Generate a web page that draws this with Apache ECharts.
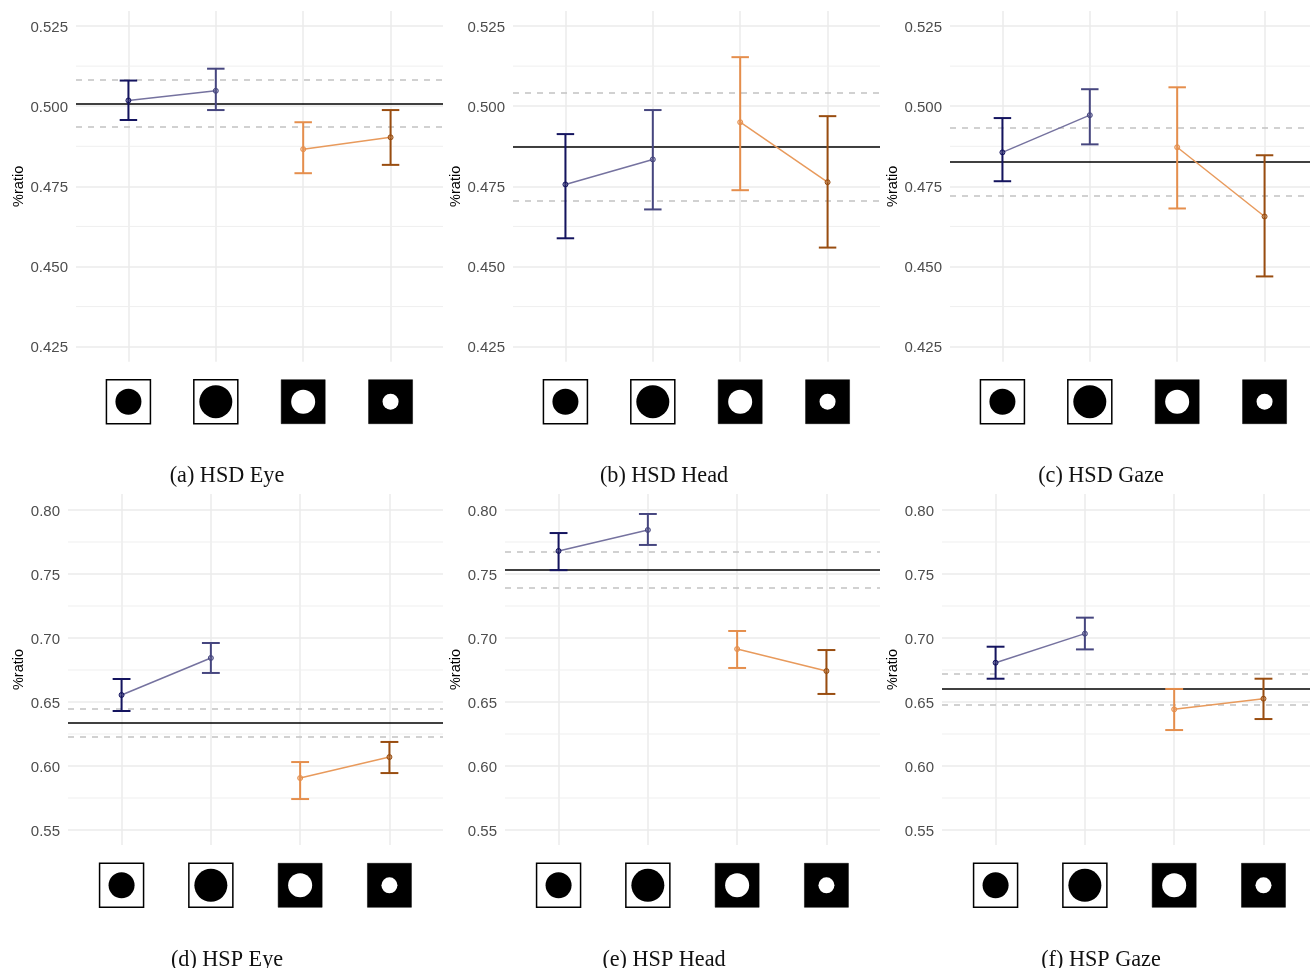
<!DOCTYPE html>
<html><head><meta charset="utf-8">
<style>html,body{margin:0;padding:0;background:#fff;overflow:hidden}#c{width:1310px;height:968px}</style>
<script src="https://cdn.jsdelivr.net/npm/echarts@6/dist/echarts.min.js"></script>
</head><body><div id="c"></div>
<script>
const titles = ["(a) HSD Eye","(b) HSD Head","(c) HSD Gaze","(d) HSP Eye","(e) HSP Head","(f) HSP Gaze"];
const conditions = [1,2,3,4];
const topTicks = [0.425,0.45,0.475,0.5,0.525];
const topMinor = [0.4375,0.4625,0.4875,0.5125];
const bottomTicks = [0.55,0.6,0.65,0.7,0.75,0.8];
const bottomMinor = [0.575,0.625,0.675,0.725,0.775];

const hsdEyeMean = [0.5018,0.5048,0.4866,0.4903];
const hsdEyeLow  = [0.4957,0.4988,0.4791,0.4817];
const hsdEyeHigh = [0.5080,0.5117,0.4950,0.4988];
const hsdEyeRef  = [0.5008,0.4935,0.5082];

const hsdHeadMean = [0.4756,0.4834,0.4950,0.4763];
const hsdHeadLow  = [0.4588,0.4678,0.4738,0.4559];
const hsdHeadHigh = [0.4913,0.4988,0.5153,0.4969];
const hsdHeadRef  = [0.4872,0.4706,0.5041];

const hsdGazeMean = [0.4856,0.4972,0.4872,0.4656];
const hsdGazeLow  = [0.4766,0.4881,0.4681,0.4469];
const hsdGazeHigh = [0.4963,0.5053,0.5059,0.4847];
const hsdGazeRef  = [0.4828,0.4722,0.4934];

const hspEyeMean = [0.6555,0.6844,0.5906,0.6070];
const hspEyeLow  = [0.6430,0.6727,0.5742,0.5945];
const hspEyeHigh = [0.6680,0.6961,0.6031,0.6188];
const hspEyeRef  = [0.6336,0.6227,0.6445];

const hspHeadMean = [0.7680,0.7844,0.6914,0.6742];
const hspHeadLow  = [0.7530,0.7727,0.6766,0.6563];
const hspHeadHigh = [0.7820,0.7969,0.7055,0.6906];
const hspHeadRef  = [0.7531,0.7390,0.7672];

const hspGazeMean = [0.6807,0.7034,0.6443,0.6526];
const hspGazeLow  = [0.6682,0.6911,0.6281,0.6367];
const hspGazeHigh = [0.6932,0.7159,0.6602,0.6682];
const hspGazeRef  = [0.6602,0.6482,0.6724];

const means = [hsdEyeMean,hsdHeadMean,hsdGazeMean,hspEyeMean,hspHeadMean,hspGazeMean];
const lows  = [hsdEyeLow,hsdHeadLow,hsdGazeLow,hspEyeLow,hspHeadLow,hspGazeLow];
const highs = [hsdEyeHigh,hsdHeadHigh,hsdGazeHigh,hspEyeHigh,hspHeadHigh,hspGazeHigh];
const refs  = [hsdEyeRef,hsdHeadRef,hsdGazeRef,hspEyeRef,hspHeadRef,hspGazeRef];

// layout
const gridLeft  = [76,513,950,68,505,942];
const gridRight = [443,880,1310,443,880,1310];
const xMaxes    = [4.6,4.6,4.52,4.6,4.6,4.521];
const nameX     = [18,455,892,18,455,892];
const rowTop = [11,494], rowH = [350.7,351];
const yRange = [[0.4203,0.5297],[0.5383,0.8125]];
const titleX = [227,664,1101,227,664,1101], titleY=[476.5,960];
const iconOffset = [40,40.3];
const iconSide = 44;
const iconRadius = [13,16.5,12,8];
const barColor = ['#14145f','#46467f','#e58e4c','#994d10'];
const lineColor = ['#75729f','#e89a5c'];
const FONT = '"Liberation Sans",Arial,sans-serif';

const grid=[],xAxis=[],yAxis=[],series=[],title=[];
titles.forEach((t,i)=>{
  const row = i<3?0:1;
  const ticks = row?bottomTicks:topTicks, minor=row?bottomMinor:topMinor;
  const dec = row?2:3, xMax=xMaxes[i];
  grid.push({left:gridLeft[i],top:rowTop[row],width:gridRight[i]-gridLeft[i],height:rowH[row]});
  xAxis.push({type:'value',gridIndex:i,min:0.4,max:xMax,
    axisLine:{show:false},axisLabel:{show:false},
    axisTick:{show:false,customValues:conditions},
    splitLine:{show:true,lineStyle:{color:'#ebebeb',width:1.5}}});
  yAxis.push({type:'value',gridIndex:i,min:yRange[row][0],max:yRange[row][1],
    name:'%ratio',nameLocation:'middle',nameGap:gridLeft[i]-nameX[i]-10.5,
    nameTextStyle:{color:'#000',fontSize:14.5,fontFamily:FONT},
    axisLine:{show:false},
    axisTick:{show:false,customValues:ticks},
    axisLabel:{customValues:ticks,color:'#4d4d4d',fontSize:15,fontFamily:FONT,margin:8,
      formatter:v=>'{a|'+v.toFixed(dec)+'}',
      rich:{a:{color:'#4d4d4d',fontSize:15,fontFamily:FONT,padding:[3,0,0,0]}}},
    splitLine:{show:true,lineStyle:{color:'#ebebeb',width:1.5}}});
  title.push({text:t,left:titleX[i],top:titleY[row],padding:0,textAlign:'center',textVerticalAlign:'middle',
    textStyle:{fontFamily:'"Liberation Serif","Times New Roman",serif',fontWeight:'normal',fontSize:22.2,color:'#111'}});

  // minor gridlines
  series.push({type:'custom',xAxisIndex:i,yAxisIndex:i,silent:true,z:1,clip:true,data:minor.map(v=>[v]),
    renderItem:(p,api)=>{
      const a=api.coord([0.4,api.value(0)]),b=api.coord([xMax,api.value(0)]);
      return {type:'line',shape:{x1:a[0],y1:a[1],x2:b[0],y2:b[1]},style:{stroke:'#efefef',lineWidth:1}};
    }});
  // reference lines and connecting lines
  [[0,1],[2,3]].forEach((pair,k)=>{
    const s={type:'line',xAxisIndex:i,yAxisIndex:i,z:4,symbol:'circle',symbolSize:5,silent:true,
      lineStyle:{color:lineColor[k],width:1.5},
      data:pair.map(j=>({value:[conditions[j],means[i][j]],
        itemStyle:{color:barColor[j]+'66',borderColor:barColor[j],borderWidth:1}}))};
    if(k===0){
      s.markLine={silent:true,symbol:'none',animation:false,z:3,precision:5,label:{show:false},
        data:[
          {yAxis:refs[i][0],lineStyle:{color:'#000',width:1.7,type:'solid'}},
          {yAxis:refs[i][1],lineStyle:{color:'#c2c2c2',width:1.5,type:[6,6]}},
          {yAxis:refs[i][2],lineStyle:{color:'#c2c2c2',width:1.5,type:[6,6]}}
        ]};
    }
    series.push(s);
  });
  // error bars
  series.push({type:'custom',xAxisIndex:i,yAxisIndex:i,silent:true,z:3,
    data:conditions.map((c,j)=>[c,lows[i][j],highs[i][j],j]),
    renderItem:(p,api)=>{
      const x=api.value(0),lo=api.value(1),hi=api.value(2),col=barColor[api.value(3)];
      const L=api.coord([x,lo]),H=api.coord([x,hi]);
      const a=api.coord([x-0.1,lo]),b=api.coord([x+0.1,lo]);
      const c=api.coord([x-0.1,hi]),d=api.coord([x+0.1,hi]);
      const st={stroke:col,lineWidth:2};
      return {type:'group',children:[
        {type:'line',shape:{x1:L[0],y1:L[1],x2:H[0],y2:H[1]},style:st},
        {type:'line',shape:{x1:a[0],y1:a[1],x2:b[0],y2:b[1]},style:st},
        {type:'line',shape:{x1:c[0],y1:c[1],x2:d[0],y2:d[1]},style:st}
      ]};
    }});
  // stimulus icons under each condition
  series.push({type:'custom',xAxisIndex:i,yAxisIndex:i,silent:true,z:2,clip:false,
    data:conditions.map((c,j)=>[c,j]),
    renderItem:(p,api)=>{
      const j=api.value(1),dark=j>=2;
      const base=api.coord([api.value(0),yRange[row][0]]);
      const cx=base[0],cy=base[1]+iconOffset[row],h=iconSide/2;
      return {type:'group',children:[
        {type:'rect',shape:{x:cx-h,y:cy-h,width:iconSide,height:iconSide},
          style:{fill:dark?'#000':'#fff',stroke:'#000',lineWidth:dark?0.5:1.5}},
        {type:'circle',shape:{cx:cx,cy:cy,r:iconRadius[j]},style:{fill:dark?'#fff':'#000'}}
      ]};
    }});
});

const chart=echarts.init(document.getElementById('c'),null,{renderer:'canvas',width:1310,height:968});
chart.setOption({animation:false,backgroundColor:'#fff',title,grid,xAxis,yAxis,series});
</script></body></html>
